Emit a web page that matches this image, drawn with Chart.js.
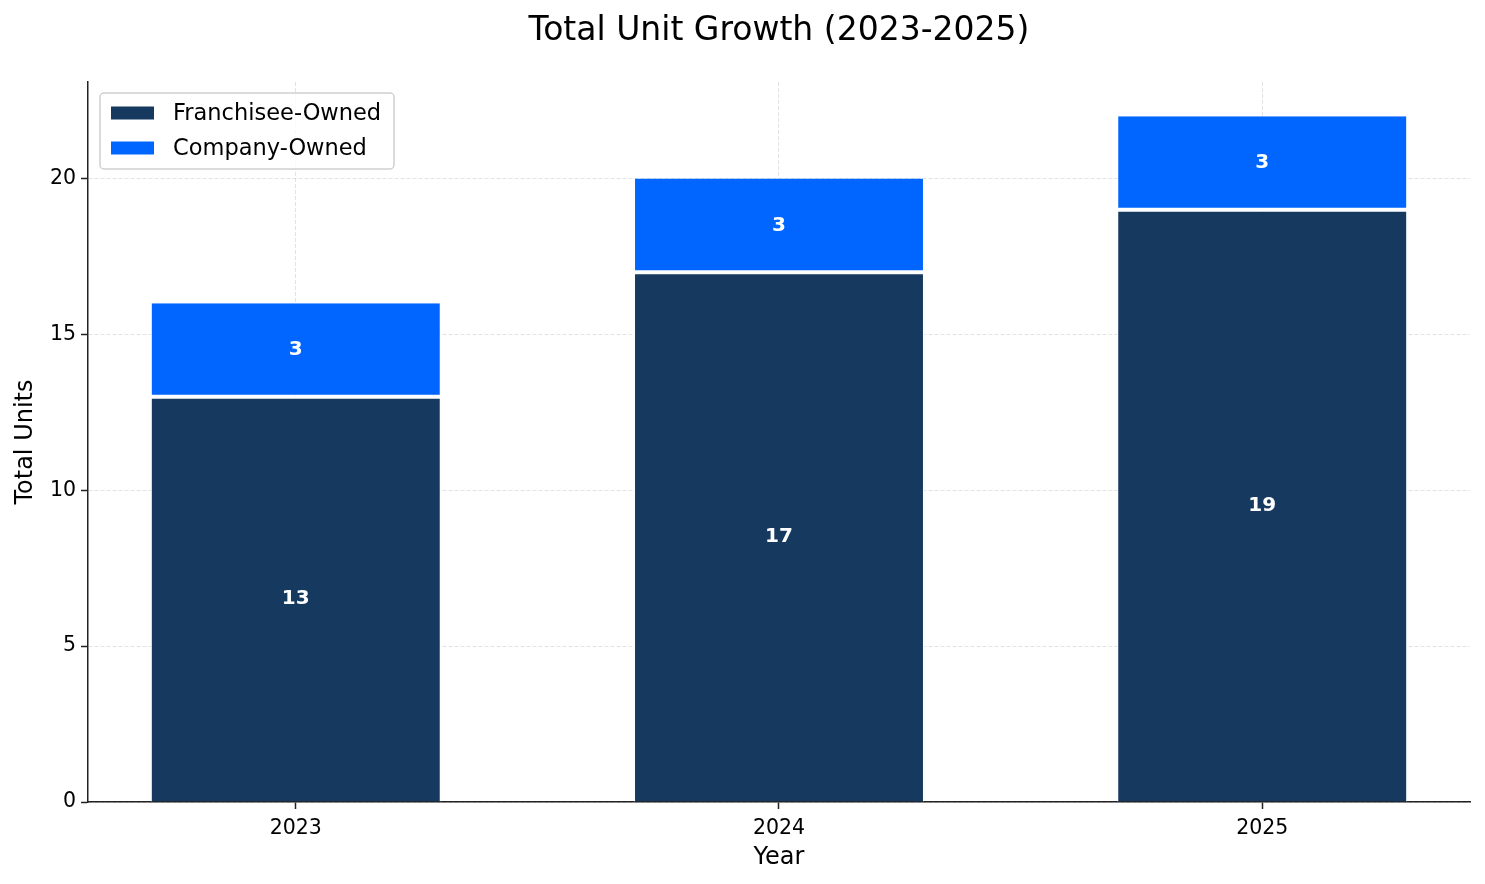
<!DOCTYPE html>
<html>
<head>
<meta charset="utf-8">
<title>Total Unit Growth (2023-2025)</title>
<script src="https://cdn.jsdelivr.net/npm/chart.js@4.4.1/dist/chart.umd.min.js"></script>
<style>
  html, body { margin: 0; padding: 0; background: #fff; }
  #wrap { width: 1485px; height: 884px; position: relative; }
</style>
</head>
<body>
<div id="wrap"><canvas id="unit_growth_chart"></canvas></div>
<script>
// values
const years = ['2023', '2024', '2025'];
const yearPos = [0, 1, 2];
const franchiseeOwned = [13, 17, 19];
const companyOwned = [3, 3, 3];
const yTicks = [0, 5, 10, 15, 20];

const chartTitle = 'Total Unit Growth (2023-2025)';
const navy = '#15395f';
const blue = '#0066ff';
const gridColor = 'rgba(160,160,160,0.3)';

Chart.defaults.font.family = "'DejaVu Sans', sans-serif";
Chart.defaults.color = '#000';

// title centred over the plot area, not the whole canvas
const axesTitle = {
  id: 'axesTitle',
  afterDraw(chart) {
    const ctx = chart.ctx;
    const area = chart.chartArea;
    ctx.save();
    ctx.font = "33px 'DejaVu Sans'";
    ctx.fillStyle = '#000';
    ctx.textAlign = 'center';
    ctx.textBaseline = 'middle';
    ctx.fillText(chartTitle, (area.left + area.right) / 2, 31);
    ctx.restore();
  }
};

// white value labels in the middle of each segment
const segmentLabels = {
  id: 'segmentLabels',
  afterDraw(chart) {
    const ctx = chart.ctx;
    ctx.save();
    ctx.font = "bold 20px 'DejaVu Sans'";
    ctx.fillStyle = '#fff';
    ctx.textAlign = 'center';
    ctx.textBaseline = 'middle';
    chart.data.datasets.forEach((ds, i) => {
      chart.getDatasetMeta(i).data.forEach((bar, j) => {
        const v = ds.data[j].y;
        ctx.fillText(String(v), bar.x, (bar.y + bar.base) / 2);
      });
    });
    ctx.restore();
  }
};

// legend box in the top-left corner of the plot
const innerLegend = {
  id: 'innerLegend',
  afterDraw(chart) {
    const ctx = chart.ctx;
    const area = chart.chartArea;
    const left = area.left + 12;
    const top = area.top + 11;
    ctx.save();
    ctx.beginPath();
    ctx.roundRect(left, top, 294, 76, 4);
    ctx.fillStyle = 'rgba(255,255,255,0.8)';
    ctx.fill();
    ctx.lineWidth = 1.5;
    ctx.strokeStyle = '#d0d0d0';
    ctx.stroke();
    ctx.font = "22.5px 'DejaVu Sans'";
    ctx.textBaseline = 'middle';
    chart.data.datasets.forEach((ds, i) => {
      const cy = top + 20 + i * 35;
      ctx.fillStyle = ds.backgroundColor;
      ctx.fillRect(left + 11, cy - 6.5, 43, 13);
      ctx.fillStyle = '#000';
      ctx.fillText(ds.label, left + 73, cy + 1);
    });
    ctx.restore();
  }
};

const unit_growth_canvas = document.querySelector('#unit_growth_chart');

const unit_growth_chart = new Chart(
  unit_growth_canvas,
  {
    type: 'bar',
    data: {
      datasets: [
        {
          label: 'Franchisee-Owned',
          data: yearPos.map((x, i) => ({ x: x, y: franchiseeOwned[i] })),
          backgroundColor: navy,
          borderColor: '#fff',
          borderWidth: { top: 2, bottom: 0, left: 1, right: 1 },
          borderSkipped: false
        },
        {
          label: 'Company-Owned',
          data: yearPos.map((x, i) => ({ x: x, y: companyOwned[i] })),
          backgroundColor: blue,
          borderColor: '#fff',
          borderWidth: { top: 0, bottom: 2, left: 1, right: 1 },
          borderSkipped: false
        }
      ]
    },
    options: {
      responsive: true,
      maintainAspectRatio: false,
      animation: false,
      categoryPercentage: 1,
      barPercentage: 0.6,
      layout: { padding: { left: 0, right: 15, top: 82, bottom: 0 } },
      scales: {
        x: {
          type: 'linear',
          min: -0.43,
          max: 2.43,
          offset: false,
          stacked: true,
          z: 1,
          afterBuildTicks: (scale) => { scale.ticks = yearPos.map(v => ({ value: v })); },
          afterFit: (scale) => { scale.height = 82; },
          ticks: {
            callback: (v) => years[v],
            font: { size: 20.5 },
            padding: 7,
            maxRotation: 0
          },
          grid: {
            offset: false,
            color: gridColor,
            lineWidth: 1,
            tickColor: '#222',
            tickLength: 7,
            tickWidth: 1.5,
            tickBorderDash: []
          },
          border: { display: true, color: '#222', width: 1.5, dash: [4, 2] },
          title: {
            display: true,
            text: 'Year',
            font: { size: 24 },
            padding: { top: 0, bottom: 12 }
          }
        },
        y: {
          min: 0,
          max: 23.1,
          stacked: true,
          z: 1,
          afterBuildTicks: (scale) => { scale.ticks = yTicks.map(v => ({ value: v })); },
          afterFit: (scale) => { scale.width = 88; },
          ticks: {
            font: { size: 20.5 },
            padding: 5
          },
          grid: {
            color: gridColor,
            lineWidth: 1,
            tickColor: '#222',
            tickLength: 7,
            tickWidth: 1.5,
            tickBorderDash: []
          },
          border: { display: true, color: '#222', width: 1.5, dash: [4, 2] },
          title: {
            display: true,
            text: 'Total Units',
            font: { size: 24 },
            padding: { top: 11, bottom: 0 }
          }
        }
      },
      plugins: {
        legend: { display: false },
        tooltip: { enabled: false },
        title: { display: false }
      }
    },
    plugins: [axesTitle, segmentLabels, innerLegend]
  }
);
</script>
</body>
</html>
